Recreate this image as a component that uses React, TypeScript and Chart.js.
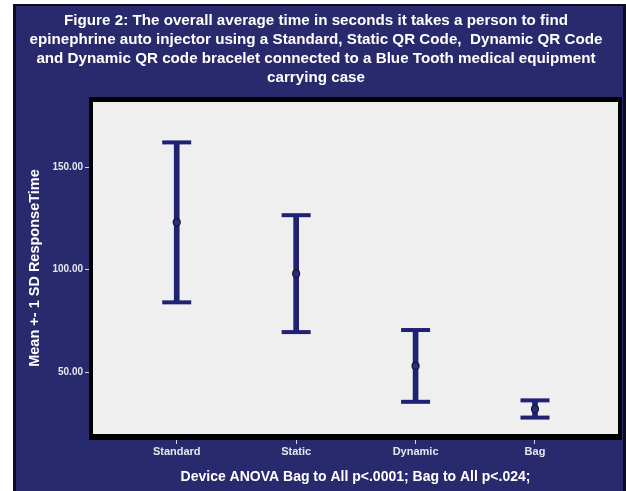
import React, { useEffect, useRef } from "react";
import { Chart, registerables } from "chart.js";

Chart.register(...registerables);

// Device groups and their response-time statistics (seconds)
const categories = ["Standard", "Static", "Dynamic", "Bag"];
const means = [123, 98, 53, 32];
const sds = [39, 28.5, 17.5, 4.2];
const yTicks = [50, 100, 150];

const titleLines = [
  "Figure 2: The overall average time in seconds it takes a person to find",
  "epinephrine auto injector using a Standard, Static QR Code,  Dynamic QR Code",
  "and Dynamic QR code bracelet connected to a Blue Tooth medical equipment",
  "carrying case",
];
const xTitle = "Device ANOVA Bag to All p<.0001; Bag to All p<.024;";
const yTitle = "Mean +- 1 SD ResponseTime";

const PANEL = "#292a6d";
const PANEL_EDGE = "#0c0c22";
const PLOT_BG = "#efefef";
const BAR = "#1f2172";
const FONT = "'Liberation Sans', Arial, sans-serif";

const upper = means.map((m, i) => m + sds[i]);
const lower = means.map((m, i) => m - sds[i]);

const backdrop = {
  id: "backdrop",
  beforeDraw(chart: any) {
    const { ctx, width, height, chartArea: a } = chart;
    ctx.save();
    ctx.fillStyle = "#ffffff";
    ctx.fillRect(0, 0, width, height);
    ctx.fillStyle = PANEL_EDGE;
    ctx.fillRect(13, 4, width - 13, height - 4);
    ctx.fillStyle = PANEL;
    ctx.fillRect(16, 6, width - 19, height - 6);
    ctx.fillStyle = PLOT_BG;
    ctx.fillRect(a.left, a.top, a.right - a.left, a.bottom - a.top);
    ctx.restore();
  },
  afterDraw(chart: any) {
    const { ctx, chartArea: a } = chart;
    ctx.save();
    ctx.fillStyle = "#000000";
    ctx.fillRect(a.left - 4, a.top - 5, a.right - a.left + 8, 5);
    ctx.fillRect(a.left - 4, a.bottom, a.right - a.left + 8, 6);
    ctx.fillRect(a.left - 4, a.top, 4, a.bottom - a.top);
    ctx.fillRect(a.right, a.top, 4, a.bottom - a.top);
    ctx.restore();
  },
};

export default function App() {
  const ref = useRef<HTMLCanvasElement>(null);

  useEffect(() => {
    document.body.style.margin = "0";
    const canvas = ref.current;
    if (!canvas) return;
    const chart = new Chart(canvas, {
      type: "scatter",
      data: {
        datasets: [
          {
            type: "bar",
            data: categories.map((_, i) => ({ x: i, y: [lower[i], upper[i]] })) as any,
            backgroundColor: BAR,
            borderWidth: 0,
            barThickness: 5,
            grouped: false,
            order: 3,
          } as any,
          {
            data: categories.map((_, i) => ({ x: i, y: upper[i] })),
            pointStyle: "line",
            pointRadius: 14.5,
            borderWidth: 4,
            borderColor: BAR,
            order: 2,
          },
          {
            data: categories.map((_, i) => ({ x: i, y: lower[i] })),
            pointStyle: "line",
            pointRadius: 14.5,
            borderWidth: 4,
            borderColor: BAR,
            order: 2,
          },
          {
            data: categories.map((_, i) => ({ x: i, y: means[i] })),
            pointStyle: "circle",
            pointRadius: 3.5,
            borderWidth: 1.2,
            borderColor: "#151535",
            backgroundColor: "#2b2d7a",
            order: 1,
          },
        ],
      },
      options: {
        responsive: false,
        animation: false,
        events: [],
        layout: { autoPadding: false, padding: { left: 14, right: 8, top: 0, bottom: 0 } },
        plugins: {
          legend: { display: false },
          tooltip: { enabled: false },
          title: {
            display: true,
            text: titleLines,
            color: "#ffffff",
            font: { family: FONT, size: 15.2, weight: "bold", lineHeight: "19px" },
            padding: { top: 11, bottom: 15 },
          },
        },
        scales: {
          x: {
            type: "linear",
            offset: false,
            min: -0.701,
            max: 3.695,
            afterFit(scale: any) {
              scale.height = 57;
              scale.paddingLeft = 0;
              scale.paddingRight = 0;
            },
            afterBuildTicks(scale: any) {
              scale.ticks = categories.map((_, i) => ({ value: i }));
            },
            ticks: {
              callback: (v: any) => categories[v as number] ?? "",
              color: "#e6e6f0",
              font: { family: FONT, size: 11, weight: "bold" },
              padding: 1,
              maxRotation: 0,
              autoSkip: false,
            },
            grid: {
              offset: false,
              drawOnChartArea: false,
              drawTicks: true,
              tickLength: 10,
              color: "#d8d8e0",
            },
            border: { display: false },
            title: {
              display: true,
              text: xTitle,
              color: "#ffffff",
              font: { family: FONT, size: 14, weight: "bold", lineHeight: 1.2 },
              padding: { top: 0, bottom: 5 },
            },
          },
          y: {
            min: 19.8,
            max: 181.7,
            afterFit(scale: any) {
              scale.width = 79;
            },
            afterBuildTicks(scale: any) {
              scale.ticks = yTicks.map((v) => ({ value: v }));
            },
            ticks: {
              callback: (v: any) => Number(v).toFixed(2),
              color: "#e6e6f0",
              font: { family: FONT, size: 10, weight: "bold" },
              padding: 2,
            },
            grid: {
              drawOnChartArea: false,
              drawTicks: true,
              tickLength: 8,
              color: "#d8d8e0",
            },
            border: { display: false },
            title: {
              display: true,
              text: yTitle,
              color: "#ffffff",
              font: { family: FONT, size: 14.5, weight: "bold", lineHeight: 1.2 },
              padding: { top: 12, bottom: 0 },
            },
          },
        },
      },
      plugins: [backdrop],
    } as any);
    return () => chart.destroy();
  }, []);

  return (
    <div style={{ width: 626, height: 491 }}>
      <canvas ref={ref} width={626} height={491} style={{ display: "block" }} />
    </div>
  );
}
